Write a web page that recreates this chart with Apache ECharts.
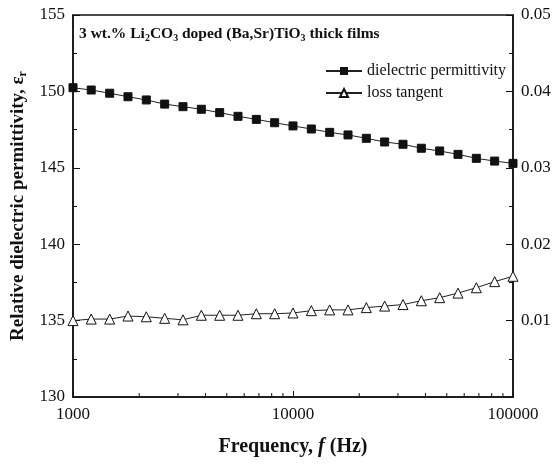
<!DOCTYPE html>
<html><head><meta charset="utf-8">
<script src="https://cdn.jsdelivr.net/npm/echarts@6/dist/echarts.min.js"></script>
<style>html,body{margin:0;padding:0;background:#fff}#c{width:555px;height:464px}</style>
</head><body><div id="c"></div>
<script>
var frequencies = [1000,1210,1468,1778,2154,2610,3162,3831,4642,5623,6813,8254,10000,12115,14678,17783,21544,26102,31623,38312,46416,56234,68129,82540,100000];
var permittivity = [150.24,150.09,149.88,149.65,149.44,149.17,149.00,148.83,148.61,148.37,148.17,147.95,147.74,147.54,147.32,147.15,146.93,146.69,146.54,146.28,146.10,145.88,145.62,145.44,145.29];
var lossTangent = [0.0100,0.0102,0.0102,0.0106,0.0105,0.0103,0.0101,0.0107,0.0107,0.0107,0.0109,0.0109,0.0110,0.0113,0.0114,0.0114,0.0117,0.0119,0.0121,0.0126,0.0130,0.0136,0.0143,0.0151,0.0158];
var minorTickFreqs = [2000,3000,4000,5000,6000,7000,8000,9000,20000,30000,40000,50000,60000,70000,80000,90000];
var leftTicks = [130,135,140,145,150,155];
var rightTicks = [0,0.01,0.02,0.03,0.04,0.05];

var serif = '"Liberation Serif", "DejaVu Serif", serif';
var chart = echarts.init(document.getElementById('c'));
chart.setOption({
  animation: false,
  backgroundColor: '#fff',
  title: {
    text: '3 wt.% Li{s|2}CO{s|3} doped (Ba,Sr)TiO{s|3} thick films',
    left: 79, top: 24, padding: 0,
    textStyle: {fontFamily: serif, fontWeight: 'bold', fontSize: 15.5, color: '#111',
      rich: {s: {fontFamily: serif, fontWeight: 'bold', fontSize: 10, verticalAlign: 'bottom', padding: [9,0,0,0], color: '#111'}}}
  },
  legend: {
    data: ['dielectric permittivity', 'loss tangent'],
    orient: 'vertical', left: 320, top: 58, itemGap: 6,
    itemWidth: 36, itemHeight: 10,
    textStyle: {fontFamily: serif, fontSize: 16, color: '#111'}
  },
  grid: {left: 73, right: 42, top: 15, bottom: 67, show: true, borderColor: '#111', borderWidth: 1.5, backgroundColor: 'transparent'},
  xAxis: {
    type: 'log', logBase: 10, min: 1000, max: 100000,
    name: 'Frequency, {i|f} (Hz)', nameLocation: 'middle', nameGap: 40,
    nameTextStyle: {fontFamily: serif, fontWeight: 'bold', fontSize: 20, color: '#111',
      rich: {i: {fontFamily: serif, fontWeight: 'bold', fontStyle: 'italic', fontSize: 20, color: '#111'}}},
    axisLine: {lineStyle: {color: '#111', width: 1.5}},
    axisTick: {inside: true, length: 6, lineStyle: {color: '#111'}},
    splitLine: {show: false},
    axisLabel: {fontFamily: serif, fontSize: 17, color: '#111', margin: 9,
      formatter: function (v) { return String(Math.round(v)); }}
  },
  yAxis: [{
    type: 'value', min: leftTicks[0], max: leftTicks[leftTicks.length-1], interval: 5, position: 'left',
    name: 'Relative dielectric permittivity, ε{s|r}', nameLocation: 'middle', nameGap: 42,
    nameTextStyle: {fontFamily: serif, fontWeight: 'bold', fontSize: 19, color: '#111',
      rich: {s: {fontFamily: serif, fontWeight: 'bold', fontSize: 12, verticalAlign: 'bottom', padding: [10,0,0,0], color: '#111'}}},
    axisLine: {show: true, lineStyle: {color: '#111', width: 1.5}},
    axisTick: {inside: true, length: 7, lineStyle: {color: '#111'}},
    minorTick: {show: true, splitNumber: 2, length: 4, lineStyle: {color: '#111'}},
    splitLine: {show: false},
    axisLabel: {fontFamily: serif, fontSize: 17, color: '#111', margin: 8}
  }, {
    type: 'value', min: rightTicks[0], max: rightTicks[rightTicks.length-1], interval: 0.01, position: 'right',
    axisLine: {show: true, lineStyle: {color: '#111', width: 1.5}},
    axisTick: {inside: true, length: 7, lineStyle: {color: '#111'}},
    minorTick: {show: true, splitNumber: 2, length: 4, lineStyle: {color: '#111'}},
    splitLine: {show: false},
    axisLabel: {fontFamily: serif, fontSize: 17, color: '#111', margin: 8,
      formatter: function (v) { return v === 0 ? '' : v.toFixed(2); }}
  }],
  series: [{
    name: 'dielectric permittivity', type: 'line', yAxisIndex: 0,
    data: frequencies.map(function (f, i) { return [f, permittivity[i]]; }),
    symbol: 'rect', symbolSize: 8,
    itemStyle: {color: '#111', borderColor: '#111'},
    lineStyle: {color: '#222', width: 1}
  }, {
    name: 'loss tangent', type: 'line', yAxisIndex: 1,
    data: frequencies.map(function (f, i) { return [f, lossTangent[i]]; }),
    symbol: 'triangle', symbolSize: 10,
    itemStyle: {color: '#fff', borderColor: '#111', borderWidth: 1},
    lineStyle: {color: '#222', width: 1}
  }, {
    type: 'custom', yAxisIndex: 0, silent: true,
    data: minorTickFreqs.map(function (f) { return [f, leftTicks[0]]; }),
    renderItem: function (params, api) {
      var p = api.coord([api.value(0), api.value(1)]);
      return {type: 'line', shape: {x1: p[0], y1: p[1], x2: p[0], y2: p[1] - 4},
        style: {stroke: '#111', lineWidth: 1}};
    }
  }]
});
</script></body></html>
